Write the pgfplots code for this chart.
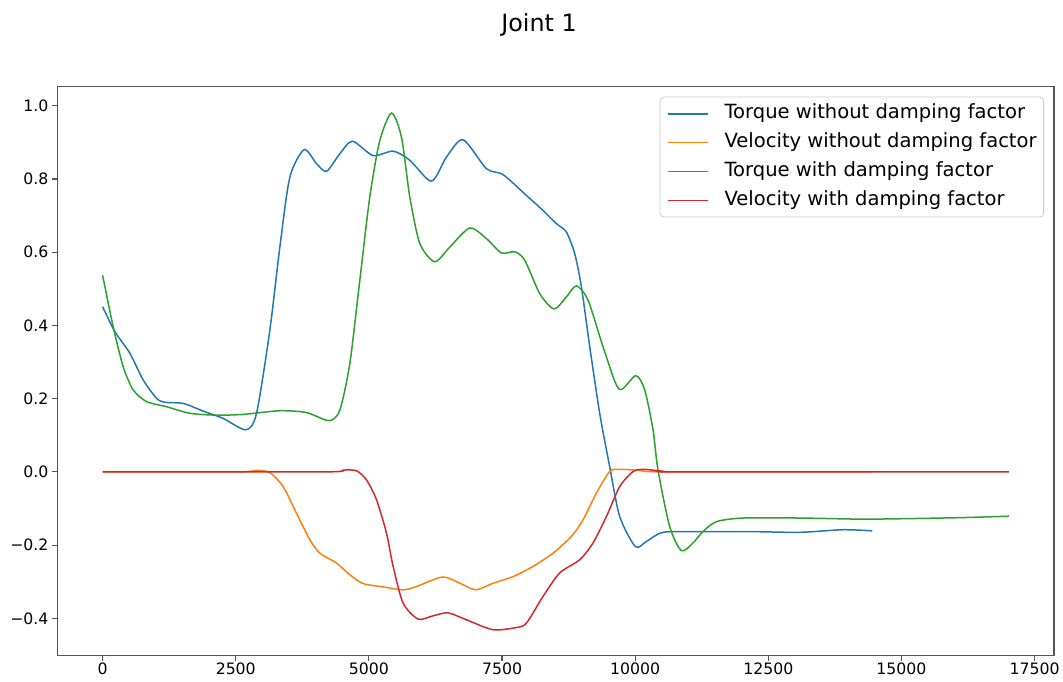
\documentclass[border=0pt]{standalone}
\usepackage{pgfplots}
\pgfplotsset{compat=1.18}
\usepackage{fontspec}
\setmainfont{DejaVu Sans}
\definecolor{tabblue}{HTML}{1F77B4}
\definecolor{taborange}{HTML}{FF7F0E}
\definecolor{tabgreen}{HTML}{2CA02C}
\definecolor{tabred}{HTML}{D62728}
\definecolor{axgray}{HTML}{555555}
\begin{document}
\begin{tikzpicture}
\useasboundingbox (-28.65pt,-12.65pt) rectangle (502.85pt,327.85pt);
\begin{axis}[
  at={(0,0)}, anchor=south west,
  scale only axis,
  width=498.35pt, height=284.5pt,
  xmin=-851, xmax=17865,
  ymin=-0.502, ymax=1.052,
  axis line style={axgray, line width=0.7pt},
  tick style={axgray, line width=0.6pt},
  major tick length=2.75pt,
  tick align=outside,
  xtick pos=left, ytick pos=left,
  xtick={0,2500,5000,7500,10000,12500,15000,17500},
  xticklabels={0,2500,5000,7500,10000,12500,15000,17500},
  ytick={-0.4,-0.2,0,0.2,0.4,0.6,0.8,1.0},
  yticklabels={−0.4,−0.2,0.0,0.2,0.4,0.6,0.8,1.0},
  yticklabel style={font=\fontsize{7.85pt}{9pt}\selectfont, inner sep=1.5pt},
  xticklabel style={font=\fontsize{7.85pt}{9pt}\selectfont, inner sep=0.5pt, text depth=0pt},
  title={Joint 1},
  title style={at={(0.4833,1)}, anchor=base, yshift=21.7pt, font=\fontsize{11.9pt}{14pt}\selectfont},
  legend cell align=left,
  legend image code/.code={\draw[#1, line width=0.75pt] (0pt,0pt) -- (20pt,0pt);},
  legend style={at={(1,1)}, anchor=north east, xshift=-5pt, yshift=-5pt,
    draw={rgb,255:red,204;green,204;blue,204}, rounded corners=2pt, fill=white,
    inner xsep=3.5pt, inner ysep=3.4pt, row sep=4.4pt, column sep=8pt,
    nodes={inner sep=0pt, text height=0.75em, text depth=0.25em},
    font=\fontsize{9.77pt}{11pt}\selectfont},
  every axis plot/.append style={line width=0.75pt, smooth, tension=0.45},
]
\addplot[tabblue] coordinates {(0,0.451) (231,0.383) (512,0.324) (762,0.251) (1013,0.201) (1169,0.190) (1513,0.187) (1888,0.166) (2264,0.146) (2690,0.115) (2890,0.160) (3140,0.387) (3328,0.614) (3516,0.805) (3784,0.880) (4017,0.842) (4205,0.821) (4454,0.869) (4692,0.903) (5079,0.864) (5455,0.876) (5768,0.851) (6175,0.794) (6457,0.860) (6769,0.907) (7208,0.828) (7519,0.812) (7958,0.755) (8270,0.714) (8521,0.678) (8709,0.655) (8865,0.596) (8991,0.505) (9147,0.342) (9334,0.160) (9522,0.014) (9710,-0.122) (10004,-0.204) (10211,-0.190) (10523,-0.165) (11211,-0.163) (12150,-0.163) (13088,-0.165) (13901,-0.158) (14452,-0.161)};
\addlegendentry{Torque without damping factor}
\addplot[taborange] coordinates {(0,0) (2514,0) (2890,0.004) (3140,-0.002) (3390,-0.040) (3641,-0.113) (3891,-0.185) (4079,-0.222) (4392,-0.249) (4642,-0.281) (4891,-0.305) (5267,-0.314) (5642,-0.322) (5894,-0.313) (6382,-0.287) (6707,-0.304) (7007,-0.322) (7332,-0.304) (7707,-0.286) (8082,-0.258) (8458,-0.222) (8803,-0.176) (9021,-0.131) (9272,-0.058) (9522,0.001) (9710,0.007) (10085,0.004) (10586,0) (14452,0)};
\addlegendentry{Velocity without damping factor}
\addplot[tabgreen] coordinates {(0,0.537) (199,0.396) (387,0.287) (574,0.224) (825,0.192) (1201,0.178) (1639,0.160) (2140,0.155) (2639,0.157) (3328,0.167) (3829,0.162) (4253,0.140) (4454,0.169) (4642,0.296) (4830,0.524) (5017,0.751) (5205,0.905) (5425,0.980) (5612,0.914) (5768,0.751) (5956,0.624) (6237,0.574) (6519,0.614) (6894,0.666) (7208,0.637) (7489,0.598) (7739,0.601) (7927,0.578) (8208,0.487) (8477,0.445) (8709,0.478) (8897,0.508) (9115,0.469) (9397,0.342) (9697,0.226) (10010,0.263) (10179,0.224) (10335,0.115) (10429,0.005) (10648,-0.149) (10868,-0.215) (11086,-0.194) (11273,-0.163) (11524,-0.136) (12024,-0.126) (13088,-0.126) (14214,-0.129) (14965,-0.128) (16091,-0.125) (17016,-0.121)};
\addlegendentry{Torque with damping factor}
\addplot[tabred] coordinates {(0,0) (4141,0) (4516,0.005) (4767,0.003) (4955,-0.022) (5143,-0.076) (5330,-0.167) (5455,-0.258) (5642,-0.358) (5924,-0.402) (6205,-0.393) (6488,-0.385) (6832,-0.404) (7332,-0.431) (7770,-0.425) (7958,-0.413) (8270,-0.340) (8583,-0.276) (8959,-0.240) (9209,-0.194) (9460,-0.122) (9710,-0.040) (9960,0.001) (10147,0.007) (10523,0.002) (10899,0) (17016,0)};
\addlegendentry{Velocity with damping factor}
\end{axis}
\end{tikzpicture}
\end{document}
